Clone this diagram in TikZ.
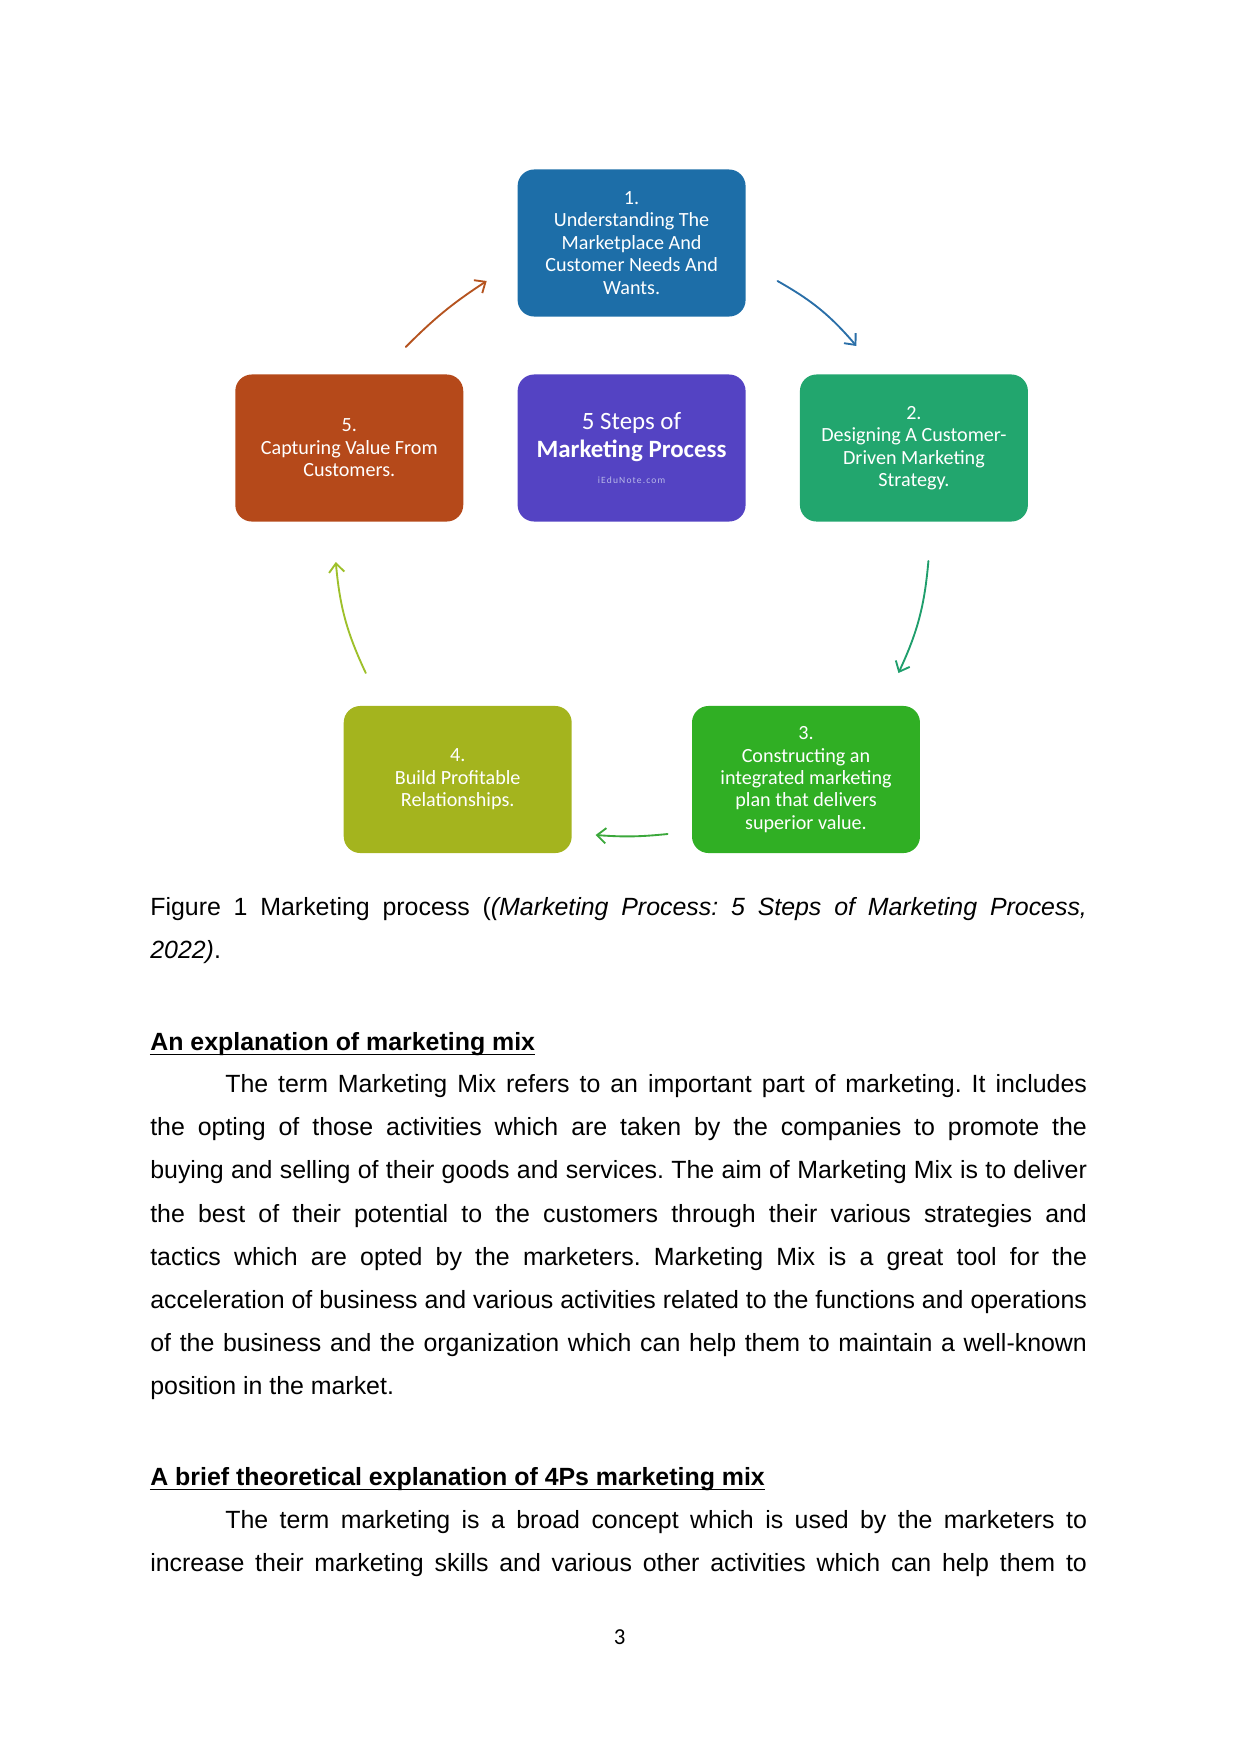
\documentclass[tikz,border=0pt]{standalone}
\usepackage{fontspec}
\setmainfont{Liberation Sans}
\newfontfamily\boxfont{Carlito}
\usetikzlibrary{arrows.meta}
\frenchspacing
\definecolor{stepone}{HTML}{1D6EA8}
\definecolor{steptwo}{HTML}{22A66E}
\definecolor{stepthree}{HTML}{30AF24}
\definecolor{stepfour}{HTML}{A4B41E}
\definecolor{stepfive}{HTML}{B5491A}
\definecolor{hub}{HTML}{5443C3}
\definecolor{notegrey}{HTML}{B8B8E8}
\definecolor{arrone}{HTML}{2A6FA8}
\definecolor{arrtwo}{HTML}{1F9E6C}
\definecolor{arrthree}{HTML}{3BA83B}
\definecolor{arrfour}{HTML}{9EC02A}
\definecolor{arrfive}{HTML}{B5531F}
\tikzset{
  stepbox/.style  = {fill=#1, rounded corners=2.8mm, minimum width=38.6mm,
                     minimum height=24.9mm, inner sep=1pt, text=white, align=center,
                     font=\boxfont\fontsize{9.7}{10.8}\selectfont},
  cycarrow/.style = {->, draw=#1, line width=0.9pt, line cap=round,
                     >={Straight Barb[length=1.5mm, width=2.6mm]}},
  txtline/.style  = {anchor=base west, inner sep=0pt, font=\fontsize{12}{14}\selectfont},
  headline/.style = {txtline, font=\fontsize{12}{14}\selectfont\bfseries},
}

\begin{document}
\begin{tikzpicture}[x=0.16922mm, y=-0.16933mm]
  \useasboundingbox (0,0) rectangle (1241,1754);
  % the five steps round the hub
  \node[stepbox=stepone]   (one)   at (632,243)   {1.\\Understanding The\\Marketplace And\\Customer Needs And\\Wants.};
  \node[stepbox=hub, font=\boxfont\fontsize{12}{14.5}\selectfont] (hubbox) at (632,448)
    {5 Steps of\\[-1pt]\textbf{Marketing Process}\\[-2pt]{\fontsize{4.6}{6}\selectfont\addfontfeature{LetterSpace=12}\color{notegrey}iEduNote.com}};
  \node[stepbox=stepfive]  (five)  at (349.5,448) {5.\\Capturing Value From\\Customers.};
  \node[stepbox=steptwo]   (two)   at (914.5,448) {2.\\Designing A Customer-\\Driven Marketing\\Strategy.};
  \node[stepbox=stepfour]  (four)  at (458,779.5) {4.\\Build Profitable\\Relationships.};
  \node[stepbox=stepthree] (three) at (806.5,779.5) {3.\\Constructing an\\integrated marketing\\plan that delivers\\superior value.};
  % free ends of the cycle arrows
  \coordinate (s5) at (406,347);  \coordinate (e5) at (487,281);
  \coordinate (s1) at (778,281);  \coordinate (e1) at (857,346);
  \coordinate (s2) at (929,561);  \coordinate (e2) at (899,673);
  \coordinate (s3) at (668,834);  \coordinate (e3) at (596,835);
  \coordinate (s4) at (366,673);  \coordinate (e4) at (336,562);
  \draw[cycarrow=arrfive]  (s5) to[bend left=6]  (e5);
  \draw[cycarrow=arrone]   (s1) to[bend left=10] (e1);
  \draw[cycarrow=arrtwo]   (s2) to[bend left=10] (e2);
  \draw[cycarrow=arrthree] (s3) to[bend left=5]  (e3);
  \draw[cycarrow=arrfour]  (s4) to[bend left=10] (e4);
  % caption
  \node[txtline] (cap1) at (150,915) {\makebox[158.6mm][s]{Figure 1 Marketing process (\textit{(Marketing Process: 5 Steps of Marketing Process,}}};
  \node[txtline] (cap2) at (150,958) {\textit{2022)}.};
  % first section
  \node[headline] (head1) at (150,1050) {An explanation of marketing mix};
  \draw[line width=0.7pt] ([yshift=-2.2pt]head1.base west) -- ([yshift=-2.2pt]head1.base east);
  \foreach \y/\txt [count=\i] in {
      1092/{\hspace*{12.7mm}The term Marketing Mix refers to an important part of marketing. It includes},
      1135/{the opting of those activities which are taken by the companies to promote the},
      1178/{buying and selling of their goods and services. The aim of Marketing Mix is to deliver},
      1222/{the best of their potential to the customers through their various strategies and},
      1265/{tactics which are opted by the marketers. Marketing Mix is a great tool for the},
      1308/{acceleration of business and various activities related to the functions and operations},
      1351/{of the business and the organization which can help them to maintain a well-known}}
    \node[txtline] (pa\i) at (150,\y) {\makebox[158.6mm][s]{\txt}};
  \node[txtline] (pa8) at (150,1394) {position in the market.};
  % second section
  \node[headline] (head2) at (150,1485) {A brief theoretical explanation of 4Ps marketing mix};
  \draw[line width=0.7pt] ([yshift=-2.2pt]head2.base west) -- ([yshift=-2.2pt]head2.base east);
  \node[txtline] (pb1) at (150,1528) {\makebox[158.6mm][s]{\hspace*{12.7mm}The term marketing is a broad concept which is used by the marketers to}};
  \node[txtline] (pb2) at (150,1571) {\makebox[158.6mm][s]{increase their marketing skills and various other activities which can help them to}};
  % page number
  \node[anchor=base, inner sep=0pt, font=\boxfont\fontsize{11}{13}\selectfont] (pageno) at (620,1644) {3};
\end{tikzpicture}
\end{document}
